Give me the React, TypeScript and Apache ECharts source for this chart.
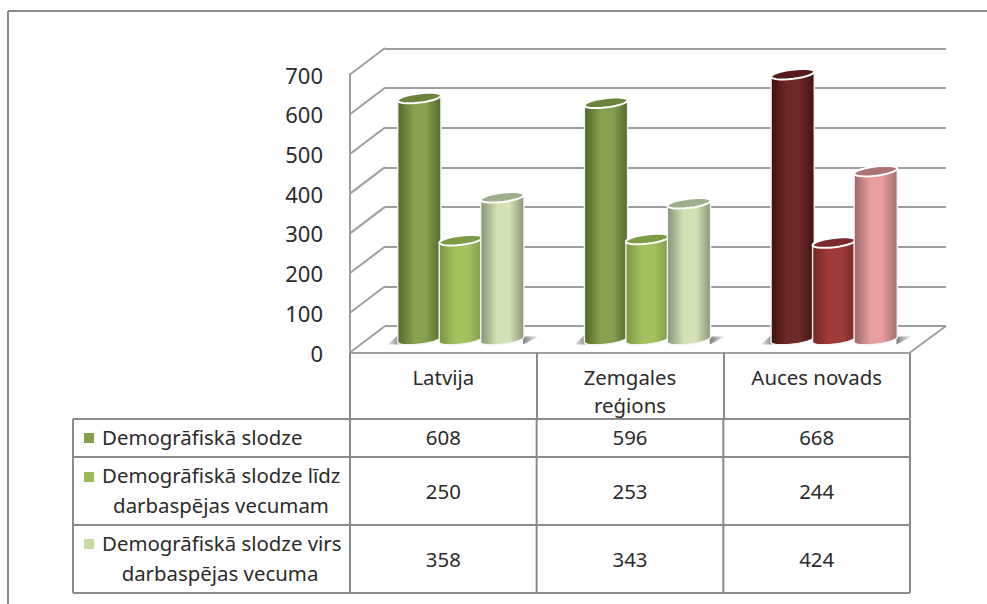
import React, { useEffect, useRef } from "react";
import * as echarts from "echarts";

const categories = ["Latvija", "Zemgales\nreģions", "Auces novads"];
const seriesNames = [
  "Demogrāfiskā slodze",
  "Demogrāfiskā slodze līdz darbaspējas vecumam",
  "Demogrāfiskā slodze virs darbaspējas vecuma",
];
const totalLoad = [608, 596, 668];
const youngLoad = [250, 253, 244];
const oldLoad = [358, 343, 424];
const yTicks = [0, 100, 200, 300, 400, 500, 600, 700];

const FONT = "'Noto Sans', 'Open Sans', sans-serif";
const TEXT = "#2b2b2b";
const GRID = "#9e9e9e";
const RULE = "#8a8a8a";
const TABLE_SIZE = 20.4;

type Shade = { edgeL: string; mid: string; edgeR: string; cap: string };
const greens: Shade[] = [
  { edgeL: "#4f682b", mid: "#86a24e", edgeR: "#516a2d", cap: "#6a8539" },
  { edgeL: "#7a9545", mid: "#a2c25e", edgeR: "#7f9a48", cap: "#7d9a44" },
  { edgeL: "#869378", mid: "#d3e2b4", edgeR: "#88957a", cap: "#9fae8c" },
];
const reds: Shade[] = [
  { edgeL: "#3f110f", mid: "#6e2a28", edgeR: "#401210", cap: "#561a18" },
  { edgeL: "#702626", mid: "#a03b39", edgeR: "#742827", cap: "#7a2b2a" },
  { edgeL: "#9a6868", mid: "#e79d9d", edgeR: "#9e6c6c", cap: "#ad7272" },
];
const paletteByCategory = [greens, greens, reds];
const legendKeys = ["#84a04c", "#9bbb59", "#c8d9a8"];

const DEPTH_X = 35;
const DEPTH_Y = 26.5;
const MID_X = DEPTH_X / 2;
const MID_Y = -13;
const RX = 21.75;
const RY = 4.6;
const TILT = (-7 * Math.PI) / 180;
const BAR_STEP = 41.5;

function ellipsePoints(cx: number, cy: number, from: number, to: number) {
  const pts: number[][] = [];
  const n = 28;
  for (let i = 0; i <= n; i++) {
    const t = from + ((to - from) * i) / n;
    pts.push([
      cx + RX * Math.cos(t) * Math.cos(TILT) - RY * Math.sin(t) * Math.sin(TILT),
      cy + RX * Math.cos(t) * Math.sin(TILT) + RY * Math.sin(t) * Math.cos(TILT),
    ]);
  }
  return pts;
}

function cylinderSeries(name: string, values: number[], order: number) {
  return {
    type: "custom",
    name,
    xAxisIndex: 0,
    yAxisIndex: 0,
    z: 5 + order,
    silent: true,
    data: values.map((v, i) => [i, v]),
    renderItem: (_p: any, api: any) => {
      const cat = api.value(0);
      const top = api.coord([cat, api.value(1)]);
      const base = api.coord([cat, 0]);
      const cx = top[0] + MID_X + (order - 1) * BAR_STEP;
      const yTop = top[1] + MID_Y;
      const yBase = base[1] + MID_Y;
      const s = paletteByCategory[cat][order];
      const body = [...ellipsePoints(cx, yBase, 0, Math.PI), ...ellipsePoints(cx, yTop, Math.PI, 2 * Math.PI)];
      return {
        type: "group",
        children: [
          {
            type: "polygon",
            shape: { points: body },
            style: {
              fill: new echarts.graphic.LinearGradient(0, 0, 1, 0, [
                { offset: 0, color: s.edgeL },
                { offset: 0.38, color: s.mid },
                { offset: 0.66, color: s.mid },
                { offset: 1, color: s.edgeR },
              ]),
              stroke: "#f4f4f4",
              lineWidth: 1.4,
            },
          },
          {
            type: "polygon",
            shape: { points: ellipsePoints(cx, yTop, 0, 2 * Math.PI) },
            style: { fill: s.cap, stroke: "#ffffff", lineWidth: 2 },
          },
        ],
      };
    },
  };
}

const App = () => {
  const ref = useRef<HTMLDivElement>(null);
  useEffect(() => {
    const chart = echarts.init(ref.current!, null, { renderer: "svg" });

    const rowLines = [419, 457, 525, 593];
    const colX = [73, 350, 536.67, 723.33, 910];
    const rowCenters = [437, 491, 559];
    const rowValues = [totalLoad, youngLoad, oldLoad];
    const legendLines = [
      [{ t: "Demogrāfiskā slodze", y: 437, left: 102 }],
      [
        { t: "Demogrāfiskā slodze līdz", y: 475, left: 102 },
        { t: "darbaspējas vecumam", y: 505, center: 221 },
      ],
      [
        { t: "Demogrāfiskā slodze virs", y: 543, left: 102 },
        { t: "darbaspējas vecuma", y: 573, center: 220 },
      ],
    ];
    const keyY = [438, 477, 544];

    const line = (x1: number, y1: number, x2: number, y2: number, color = RULE, w = 2) => ({
      type: "line",
      silent: true,
      shape: { x1, y1, x2, y2 },
      style: { stroke: color, lineWidth: w },
    });

    const graphics: any[] = [
      line(8, 11, 987, 11),
      line(8, 11, 8, 604),
      ...rowLines.map((y) => line(73, y, 910, y)),
      ...colX.map((x) => line(x, 419, x, 593)),
    ];
    legendLines.forEach((lines, r) => {
      graphics.push({
        type: "rect",
        silent: true,
        shape: { x: 84, y: keyY[r] - 5, width: 10, height: 10 },
        style: { fill: legendKeys[r] },
      });
      lines.forEach((l: any) => {
        graphics.push({
          type: "text",
          silent: true,
          style: {
            x: l.left ?? l.center,
            y: l.y,
            text: l.t,
            align: l.left ? "left" : "center",
            verticalAlign: "middle",
            font: `${TABLE_SIZE}px ${FONT}`,
            fill: TEXT,
          },
        });
      });
    });

    const option: any = {
      animation: false,
      backgroundColor: "#ffffff",
      graphic: graphics,
      grid: [
        { left: 350, top: 74.5, width: 560, height: 278 },
        { left: 385, top: 48.3, width: 561, height: 277.7 },
      ],
      xAxis: [
        {
          type: "category",
          gridIndex: 0,
          data: categories,
          axisLine: { lineStyle: { color: GRID, width: 2 } },
          axisTick: { show: true, alignWithLabel: false, length: 66, lineStyle: { color: RULE, width: 2 } },
          axisLabel: {
            color: TEXT,
            fontFamily: FONT,
            fontSize: TABLE_SIZE,
            lineHeight: 28,
            margin: 10,
            interval: 0,
          },
        },
        { type: "category", gridIndex: 1, data: categories, show: false },
      ],
      yAxis: [
        {
          type: "value",
          gridIndex: 0,
          min: 0,
          max: 700,
          interval: 100,
          axisLine: { show: true, lineStyle: { color: GRID, width: 2 } },
          axisTick: { show: false },
          splitLine: { show: false },
          axisLabel: { color: TEXT, fontFamily: FONT, fontSize: 22, margin: 27 },
        },
        {
          type: "value",
          gridIndex: 1,
          min: 0,
          max: 700,
          interval: 100,
          axisLine: { show: false },
          axisTick: { show: false },
          axisLabel: { show: false },
          splitLine: { show: true, lineStyle: { color: GRID, width: 2 } },
        },
      ],
      series: [
        {
          type: "custom",
          name: "sienas",
          xAxisIndex: 0,
          yAxisIndex: 0,
          silent: true,
          z: 2,
          data: yTicks.map((v) => [0, v]),
          renderItem: (p: any, api: any) => {
            const y = api.coord([0, api.value(1)])[1];
            const x = p.coordSys.x;
            const children: any[] = [
              {
                type: "line",
                shape: { x1: x, y1: y, x2: x + DEPTH_X, y2: y - DEPTH_Y },
                style: { stroke: GRID, lineWidth: 2 },
              },
            ];
            if (api.value(1) === 0) {
              const xr = x + p.coordSys.width;
              children.push({
                type: "line",
                shape: { x1: xr, y1: y, x2: xr + DEPTH_X + 1, y2: y - DEPTH_Y },
                style: { stroke: GRID, lineWidth: 2 },
              });
            }
            return { type: "group", children };
          },
        },
        {
          type: "custom",
          name: "ēna",
          xAxisIndex: 0,
          yAxisIndex: 0,
          silent: true,
          z: 3,
          data: categories.map((_, i) => [i, 0]),
          renderItem: (_p: any, api: any) => {
            const c = api.coord([api.value(0), 0]);
            const cx = c[0] + MID_X;
            const y = c[1] + MID_Y;
            const l = cx - BAR_STEP - RX + 1;
            const r = cx + BAR_STEP + RX - 1;
            return {
              type: "group",
              children: [
                {
                  type: "polygon",
                  shape: { points: [[l, y - 5], [l - 11, y + 5], [l, y + 5]] },
                  style: {
                    fill: new echarts.graphic.LinearGradient(0, 0, 1, 0, [
                      { offset: 0, color: "#f0f0f0" },
                      { offset: 1, color: "#8c8c8c" },
                    ]),
                  },
                },
                {
                  type: "polygon",
                  shape: { points: [[r, y - 3], [r + 15, y - 3], [r, y + 5]] },
                  style: {
                    fill: new echarts.graphic.LinearGradient(0, 0, 1, 0, [
                      { offset: 0, color: "#808080" },
                      { offset: 1, color: "#ededed" },
                    ]),
                  },
                },
              ],
            };
          },
        },
        cylinderSeries(seriesNames[0], totalLoad, 0),
        cylinderSeries(seriesNames[1], youngLoad, 1),
        cylinderSeries(seriesNames[2], oldLoad, 2),
        ...rowValues.map((vals, r) => ({
          type: "custom",
          name: `tabula ${r + 1}`,
          xAxisIndex: 0,
          yAxisIndex: 0,
          silent: true,
          z: 10,
          data: vals.map((v, i) => [i, v]),
          renderItem: (_p: any, api: any) => {
            const x = api.coord([api.value(0), 0])[0];
            return {
              type: "text",
              style: {
                x,
                y: rowCenters[r],
                text: String(api.value(1)),
                align: "center",
                verticalAlign: "middle",
                font: `${TABLE_SIZE}px ${FONT}`,
                fill: TEXT,
              },
            };
          },
        })),
      ],
    };
    chart.setOption(option);
    return () => chart.dispose();
  }, []);
  return <div ref={ref} style={{ position: "absolute", left: 0, top: 0, width: 987, height: 604 }} />;
};

export default App;
